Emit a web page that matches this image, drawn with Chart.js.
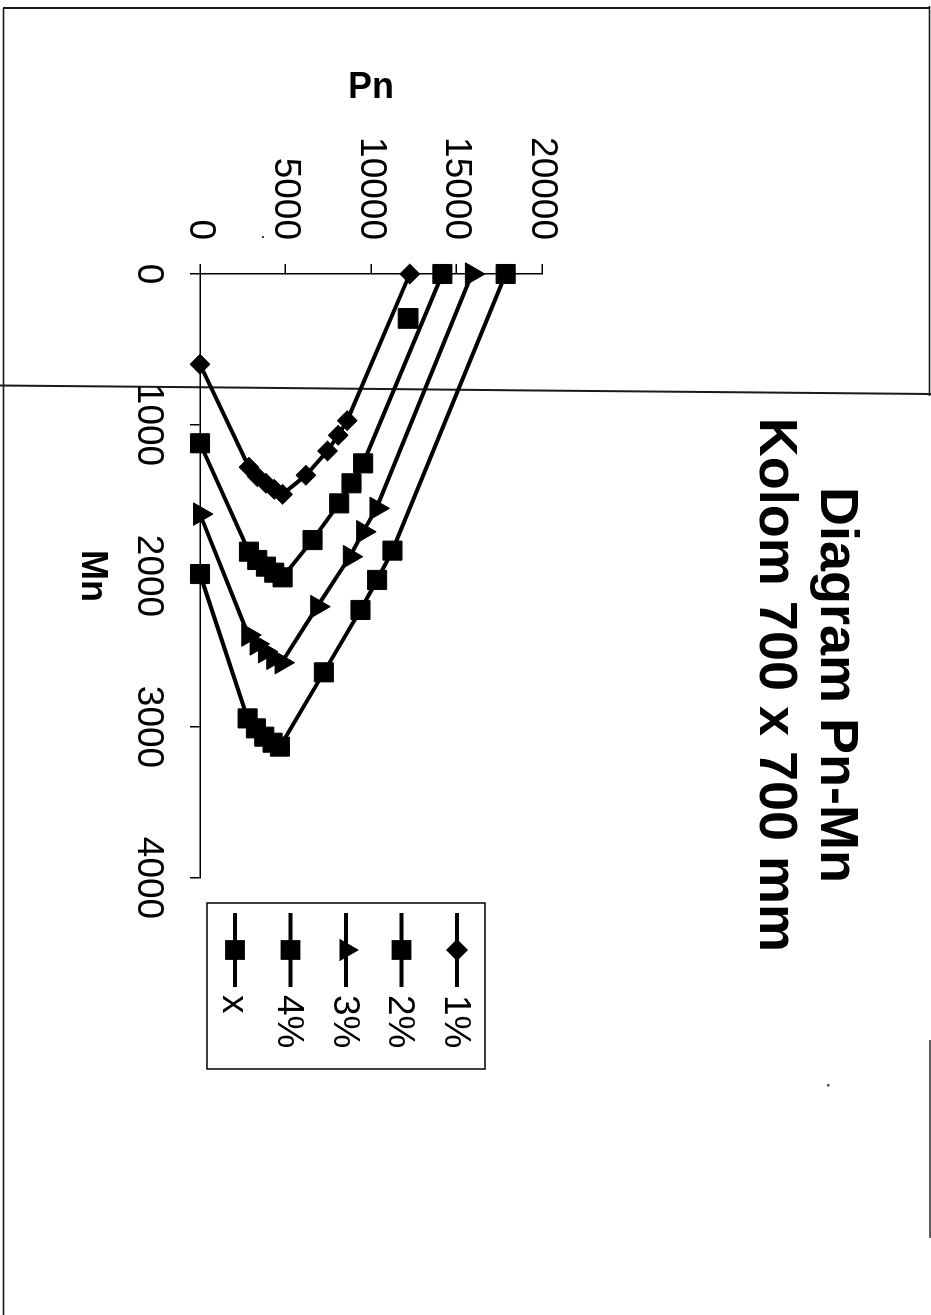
<!DOCTYPE html>
<html>
<head>
<meta charset="utf-8">
<title>Diagram Pn-Mn</title>
<script src="https://cdn.jsdelivr.net/npm/chart.js@4.4.1/dist/chart.umd.min.js"></script>
<style>
  html, body { margin: 0; padding: 0; background: #fff; }
  body { width: 931px; height: 1315px; position: relative; overflow: hidden; }
  #frame { position: absolute; left: 0; top: 0; }
  /* the chart is laid out landscape and turned a quarter turn clockwise onto the sheet */
  #sheet {
    position: absolute; left: 0; top: 0;
    width: 1080px; height: 860px;
    transform-origin: 0 0;
    transform: translate(900px, 30px) rotate(90deg);
  }
</style>
</head>
<body>
<svg id="frame" width="931" height="1315" xmlns="http://www.w3.org/2000/svg">
  <g stroke="#1a1a1a" fill="none">
    <line x1="3" y1="8" x2="929" y2="8" stroke-width="2"/>
    <line x1="3.5" y1="8" x2="3.5" y2="1315" stroke-width="1.6"/>
    <line x1="929.5" y1="6" x2="929.5" y2="396" stroke-width="1.6"/>
    <line x1="930" y1="1040" x2="930" y2="1238" stroke-width="1.4"/>
    <line x1="0" y1="385.5" x2="931" y2="394" stroke-width="2"/>
  </g>
  <rect x="827" y="1084" width="2.5" height="2.5" fill="#555"/>
  <rect x="262" y="236" width="2" height="2" fill="#333"/>
</svg>

<div id="sheet"><canvas id="pm" width="1080" height="860"></canvas></div>

<script>
// axis ticks
const mnTicks = [0, 1000, 2000, 3000, 4000];
const pnTicks = [0, 5000, 10000, 15000, 20000];

// chart texts
const titleLines = ['Diagram Pn-Mn', 'Kolom 700 x 700 mm'];
const seriesNames = ['1%', '2%', '3%', '4%', 'x'];

// interaction curves, steel ratio 1% .. 4% (Mn, Pn)
const mn1 = [0, 971, 1068, 1172, 1333, 1459, 1426, 1386, 1342, 1280, 598];
const pn1 = [12266, 8606, 8080, 7458, 6192, 4830, 4342, 3855, 3349, 2862, 0];

const mn2 = [0, 1254, 1386, 1519, 1762, 2009, 1978, 1938, 1894, 1839, 1121];
const pn2 = [14174, 9540, 8859, 8139, 6581, 4830, 4342, 3855, 3349, 2862, 0];

const mn3 = [0, 1552, 1707, 1872, 2203, 2574, 2545, 2501, 2450, 2391, 1590];
const pn3 = [15900, 10319, 9540, 8762, 6854, 4770, 4283, 3797, 3310, 2823, 0];

const mn4 = [0, 1832, 2026, 2225, 2638, 3130, 3104, 3064, 3009, 2943, 1987];
const pn4 = [17874, 11254, 10358, 9385, 7243, 4673, 4245, 3758, 3271, 2784, 0];

// applied load
const mnX = [294];
const pnX = [12170];

const FONT = '"Liberation Sans", Arial, Helvetica, sans-serif';

function pairs(xs, ys) { return xs.map((v, i) => ({ x: v, y: ys[i] })); }

function series(label, xs, ys, style, r) {
  return {
    label: label,
    data: pairs(xs, ys),
    showLine: true,
    borderColor: '#000',
    backgroundColor: '#000',
    borderWidth: 4,
    pointStyle: style,
    pointRadius: r,
    pointBorderWidth: 1,
    pointBorderColor: '#000',
    pointBackgroundColor: '#000',
    tension: 0,
    clip: false
  };
}

function marker(ctx, style, r, x, y) {
  ctx.beginPath();
  if (style === 'rectRot') {
    ctx.moveTo(x - r, y); ctx.lineTo(x, y - r); ctx.lineTo(x + r, y); ctx.lineTo(x, y + r);
  } else if (style === 'triangle') {
    ctx.moveTo(x, y - r);
    ctx.lineTo(x + r * Math.sin(2 * Math.PI / 3), y - r * Math.cos(2 * Math.PI / 3));
    ctx.lineTo(x + r * Math.sin(4 * Math.PI / 3), y - r * Math.cos(4 * Math.PI / 3));
  } else {
    const s = r * Math.SQRT1_2;
    ctx.rect(x - s, y - s, 2 * s, 2 * s);
  }
  ctx.closePath();
  ctx.fill();
}

// title block and boxed legend
const sheetDecor = {
  id: 'sheetDecor',
  afterDraw(chart) {
    const { ctx, chartArea: a } = chart;
    ctx.save();
    ctx.fillStyle = '#000';
    ctx.strokeStyle = '#000';
    ctx.textAlign = 'center';
    ctx.textBaseline = 'middle';
    ctx.font = 'bold 54px ' + FONT;
    const cx = a.left + 411;
    ctx.fillText(titleLines[0], cx, a.top - 294);
    ctx.fillText(titleLines[1], cx, a.top - 233);

    const bx = a.right + 25, by = a.top + 57, bw = 166, bh = 278;
    ctx.lineWidth = 1.5;
    ctx.strokeRect(bx, by, bw, bh);
    const legendSizes = [11, 14, 13, 14, 14];
    ctx.font = '37px ' + FONT;
    ctx.textAlign = 'left';
    chart.data.datasets.forEach((ds, i) => {
      const y = by + 28 + i * 55.5;
      ctx.lineWidth = 4;
      ctx.beginPath();
      ctx.moveTo(bx + 10, y);
      ctx.lineTo(bx + 84, y);
      ctx.stroke();
      marker(ctx, ds.pointStyle, legendSizes[i], bx + 47, y);
      ctx.fillText(ds.label, bx + 92, y + 2);
    });
    ctx.restore();
  }
};

new Chart(document.getElementById('pm'), {
  type: 'scatter',
  data: {
    datasets: [
      series(seriesNames[0], mn1, pn1, 'rectRot', 10),
      series(seriesNames[1], mn2, pn2, 'rect', 13.5),
      series(seriesNames[2], mn3, pn3, 'triangle', 13),
      series(seriesNames[3], mn4, pn4, 'rect', 13.5),
      series(seriesNames[4], mnX, pnX, 'rect', 14)
    ]
  },
  options: {
    responsive: false,
    devicePixelRatio: 1,
    animation: false,
    events: [],
    layout: { padding: { left: 32, right: 232, top: 358, bottom: 26 } },
    plugins: {
      legend: { display: false },
      title: { display: false },
      tooltip: { enabled: false }
    },
    scales: {
      x: {
        type: 'linear',
        position: 'bottom',
        min: 0, max: 4000,
        afterBuildTicks(s) { s.ticks = mnTicks.map(v => ({ value: v })); },
        afterFit(s) { s.height = 134; },
        ticks: {
          color: '#000', padding: 20, maxRotation: 0, autoSkip: false,
          font: { family: FONT, size: 37 },
          callback: v => String(v)
        },
        grid: { display: true, drawOnChartArea: false, drawTicks: true, tickLength: 10, color: '#000', lineWidth: 1.5 },
        border: { display: true, color: '#000', width: 1.5 },
        title: { display: true, text: 'Mn', color: '#000', font: { family: FONT, size: 36, weight: 'bold' }, padding: { top: 4, bottom: 4 } }
      },
      y: {
        type: 'linear',
        position: 'left',
        min: 0, max: 20000,
        afterBuildTicks(s) { s.ticks = pnTicks.map(v => ({ value: v })); },
        afterFit(s) { s.width = 212; },
        ticks: {
          color: '#000', padding: 24, autoSkip: false,
          font: { family: FONT, size: 37 },
          callback: v => String(v)
        },
        grid: { display: true, drawOnChartArea: false, drawTicks: true, tickLength: 10, color: '#000', lineWidth: 1.5 },
        border: { display: true, color: '#000', width: 1.5 },
        title: { display: true, text: 'Pn', color: '#000', font: { family: FONT, size: 36, weight: 'bold' }, padding: { top: 4, bottom: 4 } }
      }
    }
  },
  plugins: [sheetDecor]
});
</script>
</body>
</html>
